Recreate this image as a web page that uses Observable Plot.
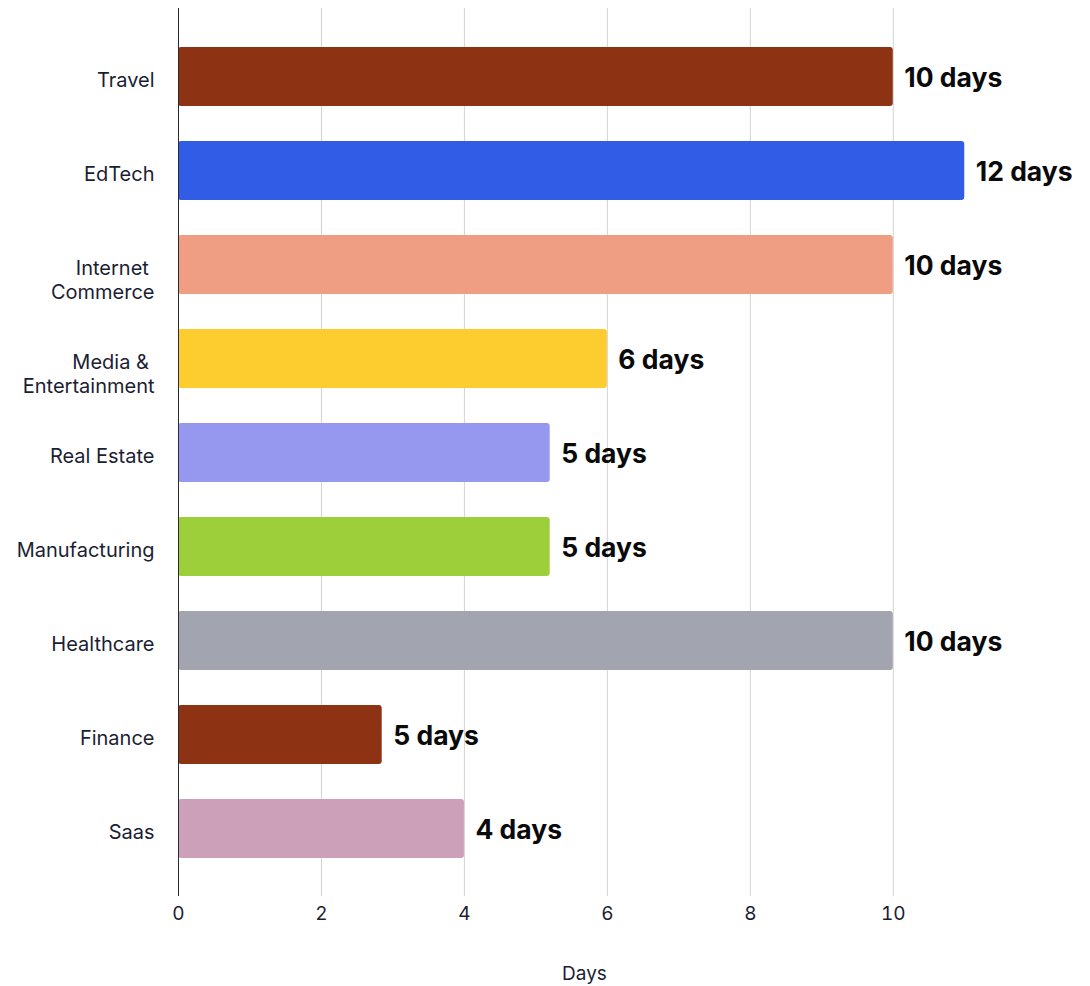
<!DOCTYPE html>
<html>
<head>
<meta charset="utf-8">
<script src="https://cdn.jsdelivr.net/npm/d3@7"></script>
<script src="https://cdn.jsdelivr.net/npm/@observablehq/plot@0.6"></script>
<style>
  html, body { margin: 0; padding: 0; background: #fff; }
  #chart svg text { white-space: pre; }
</style>
</head>
<body>
<div id="chart"></div>
<script>
// Industries, top to bottom (line breaks split the longer names)
const categories = [
  "Travel",
  "EdTech",
  "Internet \nCommerce",
  "Media & \nEntertainment",
  "Real Estate",
  "Manufacturing",
  "Healthcare",
  "Finance",
  "Saas"
];

// Bar lengths on the Days axis
const barValues = [10, 11, 10, 6, 5.2, 5.2, 10, 2.85, 4];

// Day counts printed beside each bar
const dayCounts = [10, 12, 10, 6, 5, 5, 10, 5, 4];

// One fill per industry
const barColors = [
  "#8e3214", "#315ce5", "#ef9e83", "#fdcd2f", "#9598ee",
  "#9ccf3a", "#a2a5b0", "#8e3214", "#cca0b8"
];

// Axis ticks and title
const xTicks = [0, 2, 4, 6, 8, 10];
const xTitle = "Days";

const rows = categories.map((category, i) => ({
  category,
  value: barValues[i],
  days: dayCounts[i]
}));

const chart = Plot.plot({
  width: 1090,
  height: 986,
  marginLeft: 178,
  marginRight: 100,
  marginTop: 8,
  marginBottom: 90,
  style: { fontFamily: "Inter, 'Noto Sans', sans-serif", fontSize: "19px", background: "#fff" },
  x: { domain: [0, 11.36], axis: null },
  y: { domain: categories, axis: null, paddingInner: 0.375, paddingOuter: 0.37 },
  color: { domain: categories, range: barColors },
  marks: [
    Plot.gridX(xTicks, { stroke: "#d3d3d7", strokeOpacity: 1 }),
    Plot.barX(rows, { y: "category", x: "value", fill: "category", rx: 3 }),
    Plot.ruleX([0], { stroke: "#2a2a2a", strokeWidth: 1 }),
    Plot.axisX(xTicks, {
      anchor: "bottom",
      tickSize: 0,
      tickPadding: 10,
      fontSize: 19,
      fill: "#1b1e33",
      label: null
    }),
    // industry names, first line centred on its bar
    Plot.text(rows, {
      y: "category",
      text: "category",
      frameAnchor: "left",
      textAnchor: "end",
      lineAnchor: "top",
      lineHeight: 1.2,
      dx: -24,
      dy: -7.5,
      fontSize: 20,
      fill: "#1b1e33"
    }),
    // day counts after each bar
    Plot.text(rows, {
      y: "category",
      x: "value",
      text: (d) => `${d.days} days`,
      textAnchor: "start",
      dx: 11,
      dy: 1.5,
      fontSize: 26.5,
      fontWeight: 700,
      fill: "#0a0a0a"
    }),
    // axis title
    Plot.text([xTitle], {
      text: (d) => d,
      frameAnchor: "bottom",
      lineAnchor: "top",
      dy: 70,
      fontSize: 19,
      fill: "#1b1e33"
    })
  ]
});

document.getElementById("chart").appendChild(chart);
</script>
</body>
</html>
